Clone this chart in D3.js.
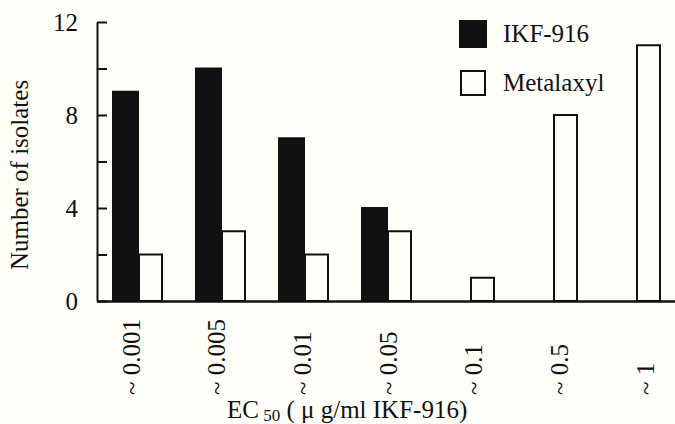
<!DOCTYPE html>
<html>
<head>
<meta charset="utf-8">
<script src="https://cdn.jsdelivr.net/npm/d3@7"></script>
</head>
<body style="margin:0; background:#fffef8">
<script>
/* global d3 */
// data
const categories = ['~ 0.001', '~ 0.005', '~ 0.01', '~ 0.05', '~ 0.1', '~ 0.5', '~ 1'];
const seriesNames = ['IKF-916', 'Metalaxyl'];
const ikfValues = [9, 10, 7, 4, 0, 0, 0];
const metalaxylValues = [2, 3, 2, 3, 1, 8, 11];
const yTicks = [0, 2, 4, 6, 8, 10, 12];

const W = 675, H = 424;
const x0 = 97, yBase = 301, yTop = 22;
const fontName = 'Liberation Serif';

function styleText (sel, size) {
  sel.style('font-family', `"${fontName}"`)
    .style('font-size', `${size}px`)
    .style('fill', '#111')
  return sel
}

let svg = d3.select('body')
  .append('svg')
  .attr('width', W)
  .attr('height', H)
  .style('display', 'block')

svg.append('rect').attr('width', W).attr('height', H).style('fill', '#fffef8')

// scales
let xScale = d3.scaleBand()
  .domain(categories)
  .range([x0, 677])
  .paddingInner(33 / 83)
  .paddingOuter(16 / 83)

let xSub = d3.scaleBand()
  .domain(seriesNames)
  .range([0, xScale.bandwidth()])

// label positions drift a little from the bar groups in the original
let labelScale = d3.scalePoint()
  .domain(categories)
  .range([131, 645])

let yScale = d3.scaleLinear()
  .domain([0, 12])
  .range([yBase, yTop])

let fills = d3.scaleOrdinal().domain(seriesNames).range(['#111', '#fffef8'])

// bars
let rows = categories.map((c, i) => ({cat: c, values: [
  {name: seriesNames[0], v: ikfValues[i]},
  {name: seriesNames[1], v: metalaxylValues[i]}
]}))

let groups = svg.append('g').selectAll('g')
  .data(rows)
  .join('g')
  .attr('transform', d => `translate(${xScale(d.cat)}, 0)`)

groups.selectAll('rect')
  .data(d => d.values.filter(e => e.v > 0))
  .join('rect')
  .attr('x', d => xSub(d.name) + (d.name === 'Metalaxyl' ? 1 : 0))
  .attr('y', d => yScale(d.v))
  .attr('width', d => xSub.bandwidth() - (d.name === 'Metalaxyl' ? 2 : 0))
  .attr('height', d => yBase - yScale(d.v))
  .style('fill', d => fills(d.name))
  .style('stroke', '#111')
  .style('stroke-width', 2)

// y axis
let yAxis = d3.axisLeft(yScale)
  .tickValues(yTicks)
  .tickSizeInner(-10)
  .tickSizeOuter(0)
  .tickPadding(19)
  .tickFormat(d => d % 4 === 0 ? d : '')

let yAxisCont = svg.append('g')
  .attr('transform', `translate(${x0}, 0)`)
  .call(yAxis)
yAxisCont.select('.domain').style('stroke', '#111').style('stroke-width', 2)
yAxisCont.selectAll('.tick line').style('stroke', '#111').style('stroke-width', 2)
styleText(yAxisCont.selectAll('.tick text'), 25).attr('dy', '0.34em')

// x axis line
let xAxisCont = svg.append('g')
  .attr('transform', `translate(0, ${yBase})`)
  .call(d3.axisBottom(xScale).tickSize(0).tickFormat(''))
xAxisCont.select('.domain').style('stroke', '#111').style('stroke-width', 2.5)

// x tick labels, rotated
let xLabels = svg.append('g')
  .attr('transform', `translate(0, ${yBase})`)
  .call(d3.axisBottom(labelScale).tickSize(0))
xLabels.select('.domain').remove()
styleText(xLabels.selectAll('.tick text'), 25)
  .attr('transform', 'rotate(-90)')
  .attr('text-anchor', 'start')
  .attr('x', -94)
  .attr('y', 0)
  .attr('dy', '0.33em')

// axis titles
styleText(svg.append('text'), 25)
  .attr('transform', `translate(28, 175) rotate(-90)`)
  .attr('text-anchor', 'middle')
  .text('Number of isolates')

let xTitle = styleText(svg.append('text'), 25)
  .attr('x', 227)
  .attr('y', 418)
xTitle.append('tspan').text('EC')
xTitle.append('tspan').attr('dy', 3).style('font-size', '17px').text(' 50')
xTitle.append('tspan').attr('dy', -3).text(' ( \u03bc g/ml IKF-916)')

// legend
let legend = svg.append('g').attr('transform', 'translate(460, 21)')
let legItems = legend.selectAll('g')
  .data(seriesNames)
  .join('g')
  .attr('transform', (d, i) => `translate(0, ${i * 49})`)
legItems.append('rect')
  .attr('x', d => d === 'Metalaxyl' ? 1 : 0)
  .attr('y', d => d === 'Metalaxyl' ? 1 : 0)
  .attr('width', d => d === 'Metalaxyl' ? 24 : 26)
  .attr('height', d => d === 'Metalaxyl' ? 24 : 26)
  .style('fill', d => fills(d))
  .style('stroke', '#111')
  .style('stroke-width', 2)
styleText(legItems.append('text'), 25)
  .attr('x', 43)
  .attr('y', 21)
  .text(d => d)
</script>
</body>
</html>
